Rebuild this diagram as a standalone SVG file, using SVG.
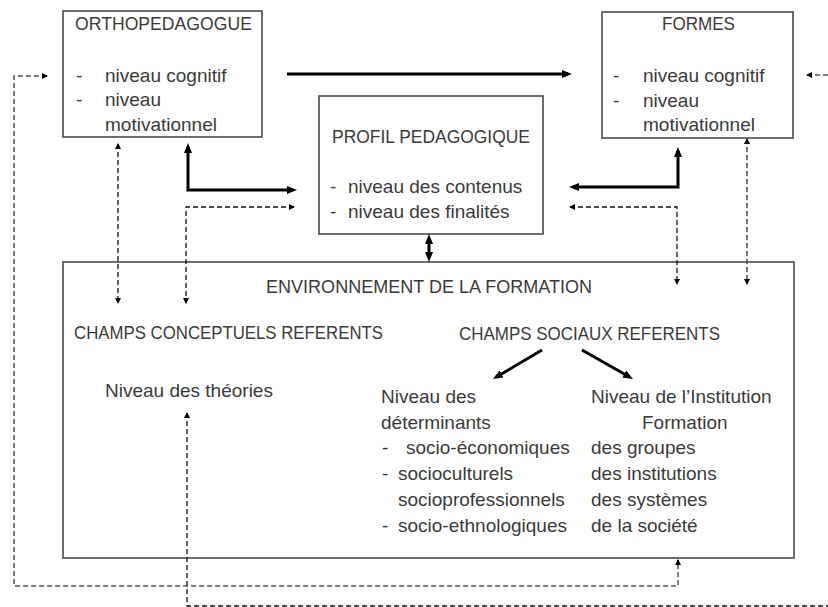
<svg xmlns="http://www.w3.org/2000/svg" width="828" height="607" viewBox="0 0 828 607">
<style>
  text { font-family: "Liberation Sans", Arial, sans-serif; font-size: 19px; fill: #3a3a3a; }
  .box { fill: #ffffff; stroke: #4a4a4a; stroke-width: 1.6; }
  .thick { fill: none; stroke: #000; stroke-width: 3; }
  .dash { fill: none; stroke: #111; stroke-width: 1.3; stroke-dasharray: 5 3; }
  .gdash { fill: none; stroke: #555; stroke-width: 1.6; stroke-dasharray: 5 3; }
</style>
<defs>
  <marker id="ah" viewBox="0 0 10 8" markerWidth="10" markerHeight="8" refX="6" refY="4" orient="auto-start-reverse" markerUnits="userSpaceOnUse">
    <path d="M0,0 L10,4 L0,8 z" fill="#000"/>
  </marker>
  <marker id="sh" viewBox="0 0 6 6" markerWidth="6" markerHeight="6" refX="5" refY="3" orient="auto-start-reverse" markerUnits="userSpaceOnUse">
    <path d="M0,0 L6,3 L0,6 z" fill="#000"/>
  </marker>
</defs>
<rect width="828" height="607" fill="#fff"/>

<g id="environnement">
  <rect class="box" x="63" y="262" width="731" height="296"/>
  <text x="266" y="293" textLength="326" lengthAdjust="spacingAndGlyphs">ENVIRONNEMENT DE LA FORMATION</text>
  <text x="74" y="339" textLength="309" lengthAdjust="spacingAndGlyphs">CHAMPS CONCEPTUELS REFERENTS</text>
  <text x="459" y="340" textLength="261" lengthAdjust="spacingAndGlyphs">CHAMPS SOCIAUX REFERENTS</text>
  <text x="105" y="397">Niveau des théories</text>
  <text x="381" y="403">Niveau des</text>
  <text x="381" y="429">déterminants</text>
  <text x="382" y="454">-</text>
  <text x="406" y="454">socio-économiques</text>
  <text x="382" y="480">-</text>
  <text x="398" y="480">socioculturels</text>
  <text x="398" y="506">socioprofessionnels</text>
  <text x="382" y="532">-</text>
  <text x="398" y="532">socio-ethnologiques</text>
  <text x="591" y="403">Niveau de l’Institution</text>
  <text x="642" y="429">Formation</text>
  <text x="591" y="454">des groupes</text>
  <text x="591" y="480">des institutions</text>
  <text x="591" y="506">des systèmes</text>
  <text x="591" y="532">de la société</text>
</g>

<g id="orthopedagogue">
  <rect class="box" x="63" y="11" width="199" height="126"/>
  <text x="75" y="30" textLength="177" lengthAdjust="spacingAndGlyphs">ORTHOPEDAGOGUE</text>
  <text x="76" y="82">-</text>
  <text x="105" y="82">niveau cognitif</text>
  <text x="76" y="106">-</text>
  <text x="105" y="106">niveau</text>
  <text x="105" y="131">motivationnel</text>
</g>

<g id="formes">
  <rect class="box" x="602" y="12" width="191" height="126"/>
  <text x="662" y="30" textLength="73" lengthAdjust="spacingAndGlyphs">FORMES</text>
  <text x="613" y="82">-</text>
  <text x="643" y="82">niveau cognitif</text>
  <text x="613" y="107">-</text>
  <text x="643" y="107">niveau</text>
  <text x="643" y="131">motivationnel</text>
</g>

<g id="profil">
  <rect class="box" x="319" y="96" width="224" height="138"/>
  <text x="332" y="143" textLength="198" lengthAdjust="spacingAndGlyphs">PROFIL PEDAGOGIQUE</text>
  <text x="330" y="193">-</text>
  <text x="348" y="193">niveau des contenus</text>
  <text x="330" y="218">-</text>
  <text x="348" y="218">niveau des finalités</text>
</g>

<g id="connectors">
  <path class="thick" d="M287,74 H568" marker-end="url(#ah)"/>
  <path class="thick" d="M188,147 V190 H293" marker-start="url(#ah)" marker-end="url(#ah)"/>
  <path class="thick" d="M678,151 V187 H573" marker-start="url(#ah)" marker-end="url(#ah)"/>
  <path class="thick" d="M429,238 V258" stroke-width="2.5" marker-start="url(#ah)" marker-end="url(#ah)"/>
  <path class="thick" d="M542,350 L496.4,377" stroke-width="2.5" marker-end="url(#ah)"/>
  <path class="thick" d="M582,350 L629.5,377" stroke-width="2.5" marker-end="url(#ah)"/>

  <path class="dash" d="M118,144 V303" marker-start="url(#sh)" marker-end="url(#sh)"/>
  <path class="dash" d="M294,207 H186 V303" marker-start="url(#sh)" marker-end="url(#sh)"/>
  <path class="dash" d="M570,207 H677 V284" marker-start="url(#sh)" marker-end="url(#sh)"/>
  <path class="gdash" d="M747,139 V284" marker-start="url(#sh)" marker-end="url(#sh)"/>
  <path class="gdash" d="M47,76 H14 V586 H678 V560" marker-start="url(#sh)" marker-end="url(#sh)"/>
  <path class="dash" d="M187,413 V606 H828" marker-start="url(#sh)"/>
  <path class="gdash" d="M828,75 H807" marker-end="url(#sh)"/>
</g>
</svg>
